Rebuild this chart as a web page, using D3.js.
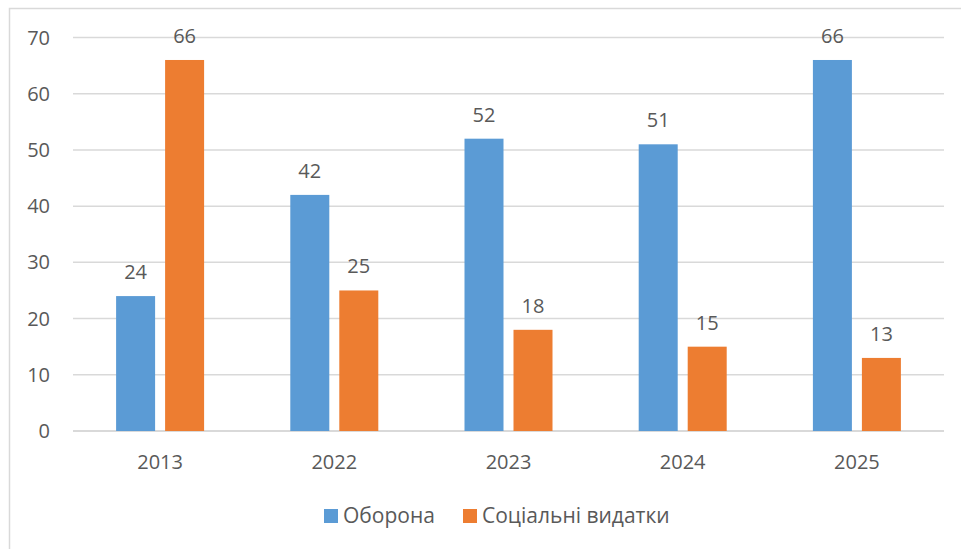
<!DOCTYPE html>
<html>
<head>
<meta charset="utf-8">
<script src="https://cdn.jsdelivr.net/npm/d3@7"></script>
<style>
  body { margin: 0; background: #fff; }
  text { font-family: "Open Sans", sans-serif; fill: #595959; }
</style>
</head>
<body>
<div id="chart"></div>
<script>
const years = ['2013', '2022', '2023', '2024', '2025'];
const seriesNames = ['Оборона', 'Соціальні видатки'];
const defence = [24, 42, 52, 51, 66];
const social = [66, 25, 18, 15, 13];
const yTicks = [0, 10, 20, 30, 40, 50, 60, 70];
const colors = ['#5B9BD5', '#ED7D31'];

const width = 961, height = 549;
const margin = {top: 37.5, right: 17, bottom: 118, left: 73};

const svg = d3.select('#chart').append('svg')
    .attr('width', width)
    .attr('height', height);

// outer frame (only left and top edges show in the picture)
svg.append('rect')
    .attr('x', 9.5).attr('y', 8.5)
    .attr('width', 1000).attr('height', 600)
    .attr('fill', 'none')
    .attr('stroke', '#d9d9d9')
    .attr('stroke-width', 1.5);

const x = d3.scaleBand()
    .domain(years)
    .range([margin.left, width - margin.right]);

const y = d3.scaleLinear()
    .domain([0, 70])
    .range([height - margin.bottom, margin.top]);

// gridlines
svg.append('g')
    .selectAll('line')
    .data(yTicks)
    .join('line')
    .attr('x1', margin.left)
    .attr('x2', width - margin.right)
    .attr('y1', d => y(d))
    .attr('y2', d => y(d))
    .attr('stroke', '#d9d9d9')
    .attr('stroke-width', d => d === 0 ? 2 : 1.5);

// y axis labels
svg.append('g')
    .selectAll('text')
    .data(yTicks)
    .join('text')
    .attr('x', 50)
    .attr('y', d => y(d))
    .attr('dy', '0.35em')
    .attr('text-anchor', 'end')
    .attr('font-size', '20px')
    .text(d => d);

// x axis labels
svg.append('g')
    .selectAll('text')
    .data(years)
    .join('text')
    .attr('x', d => x(d) + x.bandwidth() / 2)
    .attr('y', 469)
    .attr('text-anchor', 'middle')
    .attr('font-size', '20px')
    .text(d => d);

const barW = 39, gap = 10;
const rows = years.map((yr, i) => ({year: yr, values: [defence[i], social[i]]}));

rows.forEach(r => {
  r.values.forEach((v, k) => {
    const cx = x(r.year) + x.bandwidth() / 2;
    const bx = k === 0 ? cx - gap / 2 - barW : cx + gap / 2;
    svg.append('rect')
        .attr('x', bx)
        .attr('y', y(v))
        .attr('width', barW)
        .attr('height', y(0) - y(v))
        .attr('fill', colors[k]);
    svg.append('text')
        .attr('x', bx + barW / 2)
        .attr('y', y(v) - 17)
        .attr('text-anchor', 'middle')
        .attr('font-size', '20px')
        .text(v);
  });
});

// legend
const legendX = [324, 463];
seriesNames.forEach((name, k) => {
  svg.append('rect')
      .attr('x', legendX[k])
      .attr('y', 509)
      .attr('width', 14)
      .attr('height', 14)
      .attr('fill', colors[k]);
  svg.append('text')
      .attr('x', legendX[k] + 19)
      .attr('y', 523)
      .attr('font-size', '21px')
      .text(name);
});
</script>
</body>
</html>
